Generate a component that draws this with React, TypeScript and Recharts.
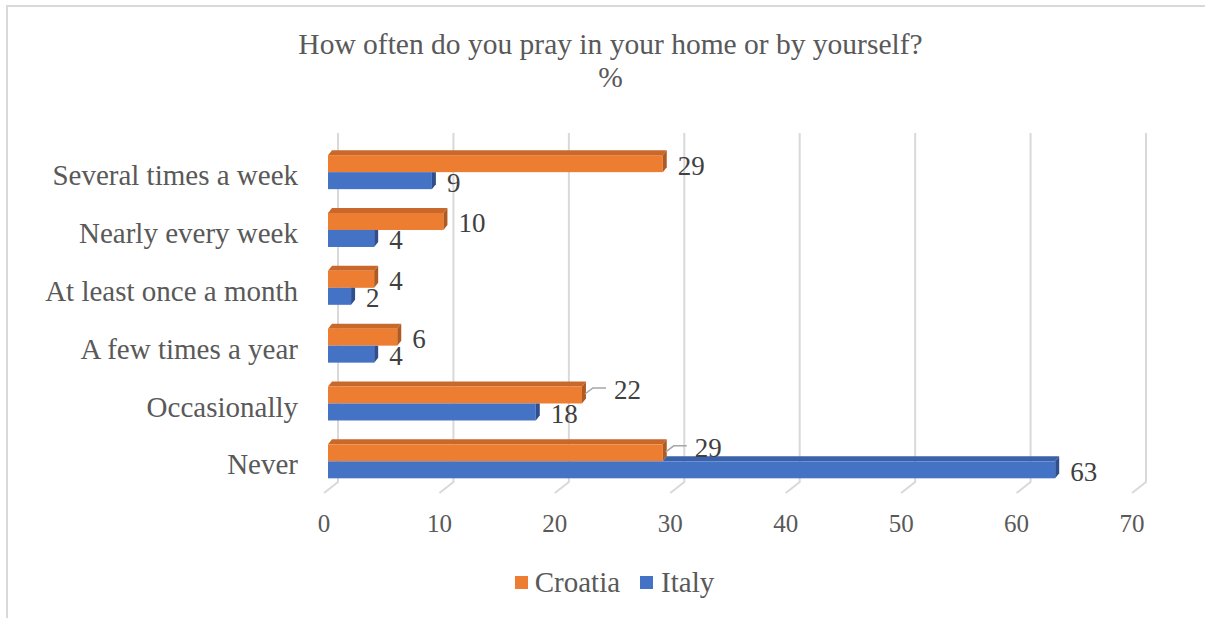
import { Bar, BarChart, CartesianGrid, LabelList, XAxis, YAxis } from "recharts"

const categories = [
  "Several times a week",
  "Nearly every week",
  "At least once a month",
  "A few times a year",
  "Occasionally",
  "Never",
]
const croatia = [29, 10, 4, 6, 22, 29]
const italy = [9, 4, 2, 4, 18, 63]
const xTicks = [0, 10, 20, 30, 40, 50, 60, 70]

// rows where Excel pulled the Croatia label out with a leader line
const leaderRows = ["Occasionally", "Never"]

const chartData = categories.map((name, i) => ({
  name,
  croatia: croatia[i],
  italy: italy[i],
}))

const ORANGE = "#ED7D31"
const ORANGE_TOP = "#C9682B"
const ORANGE_SIDE = "#B05A22"
const BLUE = "#4472C4"
const BLUE_TOP = "#3A62AA"
const BLUE_SIDE = "#2F4F8C"
const DX = 4
const DY = 5
const FONT = "'Liberation Serif', 'Times New Roman', serif"

function CroatiaBar(props: any) {
  const { x, y, width, height } = props
  return (
    <g>
      <polygon
        points={`${x},${y} ${x + DX},${y - DY} ${x + width + DX},${y - DY} ${x + width},${y}`}
        fill={ORANGE_TOP}
      />
      <rect x={x} y={y} width={width} height={height} fill={ORANGE} />
      <polygon
        points={`${x + width},${y} ${x + width + DX},${y - DY} ${x + width + DX},${y + height - DY} ${x + width},${y + height}`}
        fill={ORANGE_SIDE}
      />
    </g>
  )
}

function ItalyBar(props: any) {
  const { x, y, width, height, payload } = props
  const perUnit = payload.italy ? width / payload.italy : 0
  const orangeEnd = x + payload.croatia * perUnit
  const end = x + width
  const covered = orangeEnd >= end
  return (
    <g>
      {!covered && (
        <polygon
          points={`${orangeEnd},${y} ${orangeEnd + DX},${y - DY} ${end + DX},${y - DY} ${end},${y}`}
          fill={BLUE_TOP}
        />
      )}
      <rect x={x} y={y} width={width} height={height} fill={BLUE} />
      <polygon
        points={
          covered
            ? `${end},${y} ${end + DX},${y} ${end + DX},${y + height - DY} ${end},${y + height}`
            : `${end},${y} ${end + DX},${y - DY} ${end + DX},${y + height - DY} ${end},${y + height}`
        }
        fill={BLUE_SIDE}
      />
    </g>
  )
}

function valueLabel(series: "croatia" | "italy") {
  return (props: any) => {
    const { x, y, width, height, value, index } = props
    const end = x + width
    const cy = y + height / 2
    const leader = series === "croatia" && leaderRows.includes(categories[index])
    if (leader) {
      return (
        <g>
          <polyline
            points={`${end + 3},${cy - 1} ${end + 11},${cy - 7} ${end + 24},${cy - 7}`}
            fill="none"
            stroke="#A6A6A6"
            strokeWidth={1.5}
          />
          <text
            x={end + 32}
            y={cy - 5}
            fill="#404040"
            fontSize={27}
            fontFamily={FONT}
            dominantBaseline="central"
          >
            {value}
          </text>
        </g>
      )
    }
    return (
      <text
        x={end + 15}
        y={cy + 2}
        fill="#404040"
        fontSize={27}
        fontFamily={FONT}
        dominantBaseline="central"
      >
        {value}
      </text>
    )
  }
}

function GridLine(props: any) {
  const { x1, y1, y2 } = props
  return (
    <polyline
      points={`${x1 + 10},${y1 - 10} ${x1 + 10},${y2 - 8} ${x1 - 4},${y2 + 3}`}
      fill="none"
      stroke="#D9D9D9"
      strokeWidth={2}
    />
  )
}

export default function App() {
  return (
    <div
      style={{
        position: "absolute",
        left: 0,
        top: 0,
        width: 1205,
        height: 618,
        overflow: "hidden",
        background: "#fff",
        fontFamily: FONT,
      }}
    >
      <div
        style={{
          position: "absolute",
          left: 6,
          top: 5,
          width: 1220,
          height: 640,
          borderLeft: "2px solid #D9D9D9",
          borderTop: "2px solid #D9D9D9",
        }}
      />
      <div
        style={{
          position: "absolute",
          top: 28,
          left: 0,
          width: 1205,
          paddingLeft: 16,
          boxSizing: "border-box",
          textAlign: "center",
          color: "#595959",
          fontSize: 29.5,
          lineHeight: "33px",
        }}
      >
        How often do you pray in your home or by yourself?
        <br />%
      </div>
      <div style={{ position: "absolute", left: 0, top: 0 }}>
        <BarChart
          width={1205}
          height={618}
          data={chartData}
          layout="vertical"
          margin={{ top: 143, right: 69, bottom: 78, left: 0 }}
          barCategoryGap="21%"
          barGap={0}
        >
          <CartesianGrid horizontal={false} vertical={GridLine} />
          <XAxis
            type="number"
            domain={[0, 70]}
            ticks={xTicks}
            axisLine={false}
            tickLine={false}
            tickSize={0}
            tickMargin={24}
            height={50}
            tick={{ fill: "#595959", fontSize: 25, fontFamily: FONT, dx: -4 }}
          />
          <YAxis
            type="category"
            dataKey="name"
            width={328}
            axisLine={false}
            tickLine={false}
            tickSize={0}
            tickMargin={30}
            tick={{ fill: "#595959", fontSize: 29, fontFamily: FONT, dy: 3 }}
          />
          <Bar dataKey="croatia" name="Croatia" fill={ORANGE} shape={CroatiaBar} isAnimationActive={false}>
            <LabelList dataKey="croatia" content={valueLabel("croatia")} />
          </Bar>
          <Bar dataKey="italy" name="Italy" fill={BLUE} shape={ItalyBar} isAnimationActive={false}>
            <LabelList dataKey="italy" content={valueLabel("italy")} />
          </Bar>
        </BarChart>
      </div>
      <div
        style={{
          position: "absolute",
          top: 566,
          left: 0,
          width: 1205,
          display: "flex",
          justifyContent: "center",
          alignItems: "center",
          gap: 20,
          fontSize: 29,
          color: "#595959",
          paddingLeft: 24,
          boxSizing: "border-box",
        }}
      >
        <span style={{ display: "flex", alignItems: "center", gap: 7 }}>
          <span style={{ width: 13, height: 13, background: ORANGE, display: "inline-block" }} />
          Croatia
        </span>
        <span style={{ display: "flex", alignItems: "center", gap: 8 }}>
          <span style={{ width: 13, height: 13, background: BLUE, display: "inline-block" }} />
          Italy
        </span>
      </div>
    </div>
  )
}
